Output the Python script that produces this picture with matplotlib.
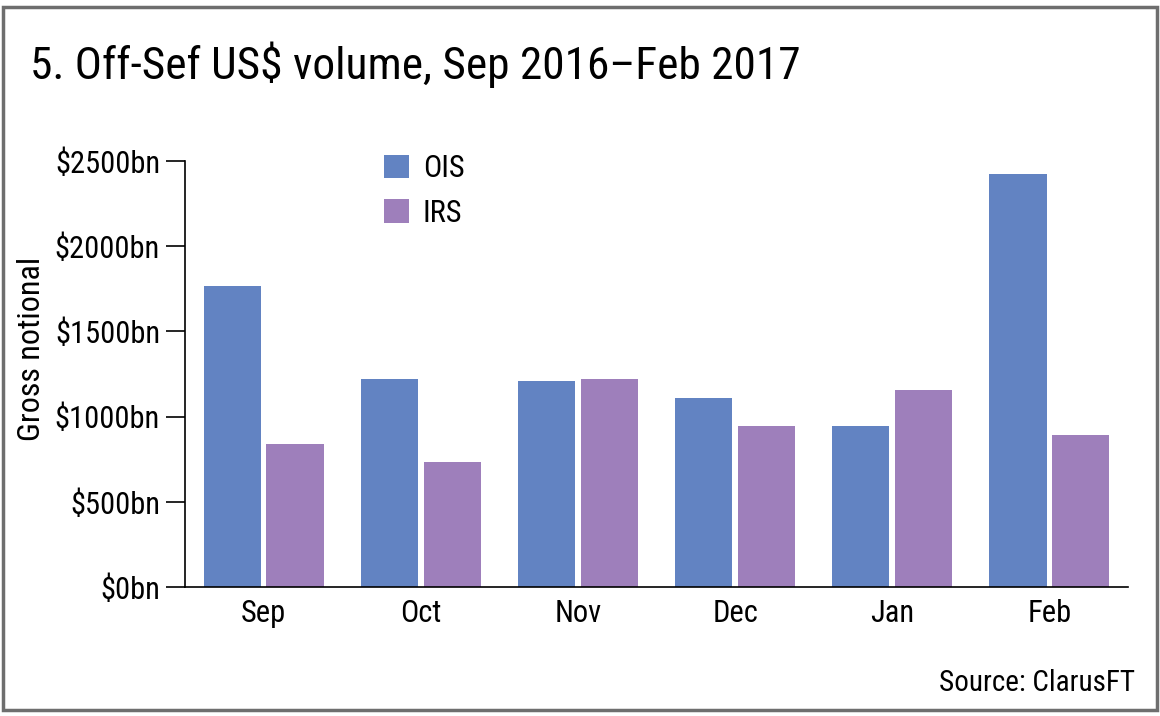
import matplotlib
matplotlib.use('Agg')
import matplotlib.pyplot as plt
import numpy as np
from matplotlib import font_manager
from matplotlib.patches import Rectangle

# Data ($bn gross notional)
months = ['Sep', 'Oct', 'Nov', 'Dec', 'Jan', 'Feb']
ois = [1769, 1218, 1206, 1110, 946, 2425]
irs = [838, 736, 1220, 946, 1155, 894]
y_ticks = [0, 500, 1000, 1500, 2000, 2500]
y_tick_labels = ['$0bn', '$500bn', '$1000bn', '$1500bn', '$2000bn', '$2500bn']

# Pick a narrow font if one is around
names = {f.name for f in font_manager.fontManager.ttflist}
family = 'DejaVu Sans'
for cand in ['Liberation Sans Narrow', 'Roboto Condensed', 'Open Sans Condensed']:
    if cand in names:
        family = cand
        break
plt.rcParams['font.family'] = [family, 'DejaVu Sans']
plt.rcParams['font.stretch'] = 'condensed'

ois_col = '#6283c2'
irs_col = '#9e7fbb'

fig = plt.figure(figsize=(11.6, 7.16), dpi=100)
ax = fig.add_axes([185 / 1160, 1 - 587 / 716, (1128 - 185) / 1160, (587 - 161) / 716])

x = np.arange(len(months))
w = 0.363
ax.bar(x - 0.2, ois, width=w, color=ois_col, label='OIS')
ax.bar(x + 0.2, irs, width=w, color=irs_col, label='IRS')

ax.set_xlim(-0.5, len(months) - 0.5)
ax.set_ylim(0, 2500)
ax.set_yticks(y_ticks)
ax.set_yticklabels(y_tick_labels)
ax.set_xticks(x)
ax.set_xticklabels(months)
ax.tick_params(axis='y', length=14, width=1.2, labelsize=22, pad=4)
ax.tick_params(axis='x', length=0, labelsize=22, pad=9)
for s in ['top', 'right']:
    ax.spines[s].set_visible(False)
ax.spines['left'].set_linewidth(1.2)
ax.spines['bottom'].set_linewidth(1.2)

fig.text(32 / 1160, 1 - 349 / 716, 'Gross notional', fontsize=23, rotation=90,
         va='center', ha='center')

ax.legend(loc='upper left', bbox_to_anchor=(0.198, 1.045), frameon=False, fontsize=22,
          handlelength=0.82, handleheight=0.82, handletextpad=0.45, labelspacing=0.52,
          borderaxespad=0)

fig.text(30 / 1160, 1 - 65 / 716, '5. Off-Sef US$ volume, Sep 2016\u2013Feb 2017',
         fontsize=32.7, va='center', ha='left')
fig.text(1135 / 1160, 1 - 683 / 716, 'Source: ClarusFT', fontsize=21, va='center', ha='right')

# outer frame
fig.patches.append(Rectangle((3 / 1160, 6 / 716), 1154 / 1160, 703 / 716, transform=fig.transFigure,
                             fill=False, edgecolor='#6e6e6e', linewidth=2.5))

fig.savefig('out.png', dpi=100)
